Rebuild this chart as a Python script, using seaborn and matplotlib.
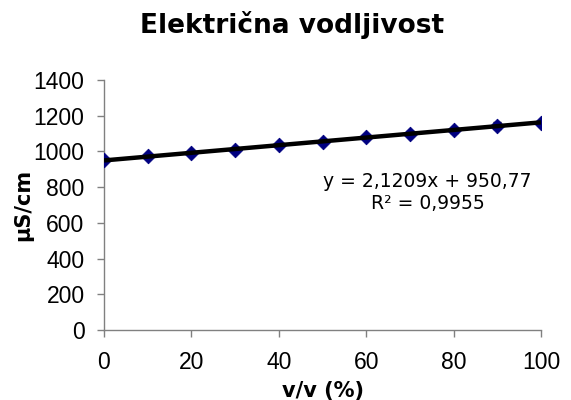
import numpy as np
import pandas as pd
import matplotlib
matplotlib.use("Agg")
import matplotlib.pyplot as plt
import seaborn as sns

# --- data ---
concentration = [0, 10, 20, 30, 40, 50, 60, 70, 80, 90, 100]
conductivity = [952, 972, 990, 1010, 1035, 1055, 1080, 1100, 1120, 1145, 1160]
error = [4, 4, 5, 5, 6, 6, 10, 14, 14, 20, 6]

df = pd.DataFrame({"v/v (%)": concentration, "uS/cm": conductivity, "err": error})

sns.set_style("white")
plt.rcParams["font.family"] = ["Liberation Sans", "DejaVu Sans"]
plt.rcParams.update({"text.color": "black", "axes.labelcolor": "black",
                     "xtick.color": "black", "ytick.color": "black"})

fig = plt.figure(figsize=(5.71, 4.0), dpi=100)
ax = fig.add_axes([104 / 571, 1 - 330 / 400, 437 / 571, 250 / 400])

ax.errorbar(df["v/v (%)"], df["uS/cm"], yerr=df["err"], fmt="none",
            ecolor="black", elinewidth=1, capsize=3, zorder=3)
sns.scatterplot(data=df, x="v/v (%)", y="uS/cm", marker="D", s=55,
                color="#000080", edgecolor="#000080", ax=ax, zorder=4)

# linear trendline (drawn over the markers, as in Excel)
slope, intercept = np.polyfit(df["v/v (%)"], df["uS/cm"], 1)
xs = np.array([0, 100])
ax.plot(xs, slope * xs + intercept, color="black", lw=3.2, zorder=5,
        solid_capstyle="butt")

ax.set_xlim(0, 100)
ax.set_ylim(0, 1400)
ax.set_xticks(range(0, 101, 20))
ax.set_yticks(range(0, 1401, 200))
ax.tick_params(axis="both", direction="out", length=5, width=1,
               color="#808080", labelsize=16.5, left=True, bottom=True)
ax.tick_params(axis="x", pad=10)
ax.tick_params(axis="y", pad=9)
for side in ["top", "right"]:
    ax.spines[side].set_visible(False)
for side in ["left", "bottom"]:
    ax.spines[side].set_color("#808080")
    ax.spines[side].set_linewidth(1)

ax.set_xlabel("v/v (%)", fontsize=15, fontweight="bold", family="DejaVu Sans")
ax.set_ylabel("µS/cm", fontsize=15, fontweight="bold", family="DejaVu Sans")
ax.xaxis.set_label_coords(0.5, -0.205)
ax.yaxis.set_label_coords(-0.162, 0.5)

fig.text(292 / 571, 1 - 33 / 400, "Električna vodljivost", ha="center", va="baseline",
         fontsize=19, fontweight="bold", family="DejaVu Sans")

ax.text(74, 770, "y = 2,1209x + 950,77\nR² = 0,9955", ha="center", va="center",
        fontsize=13.5, family="DejaVu Sans", linespacing=1.25)

fig.savefig("out.png", dpi=100)
